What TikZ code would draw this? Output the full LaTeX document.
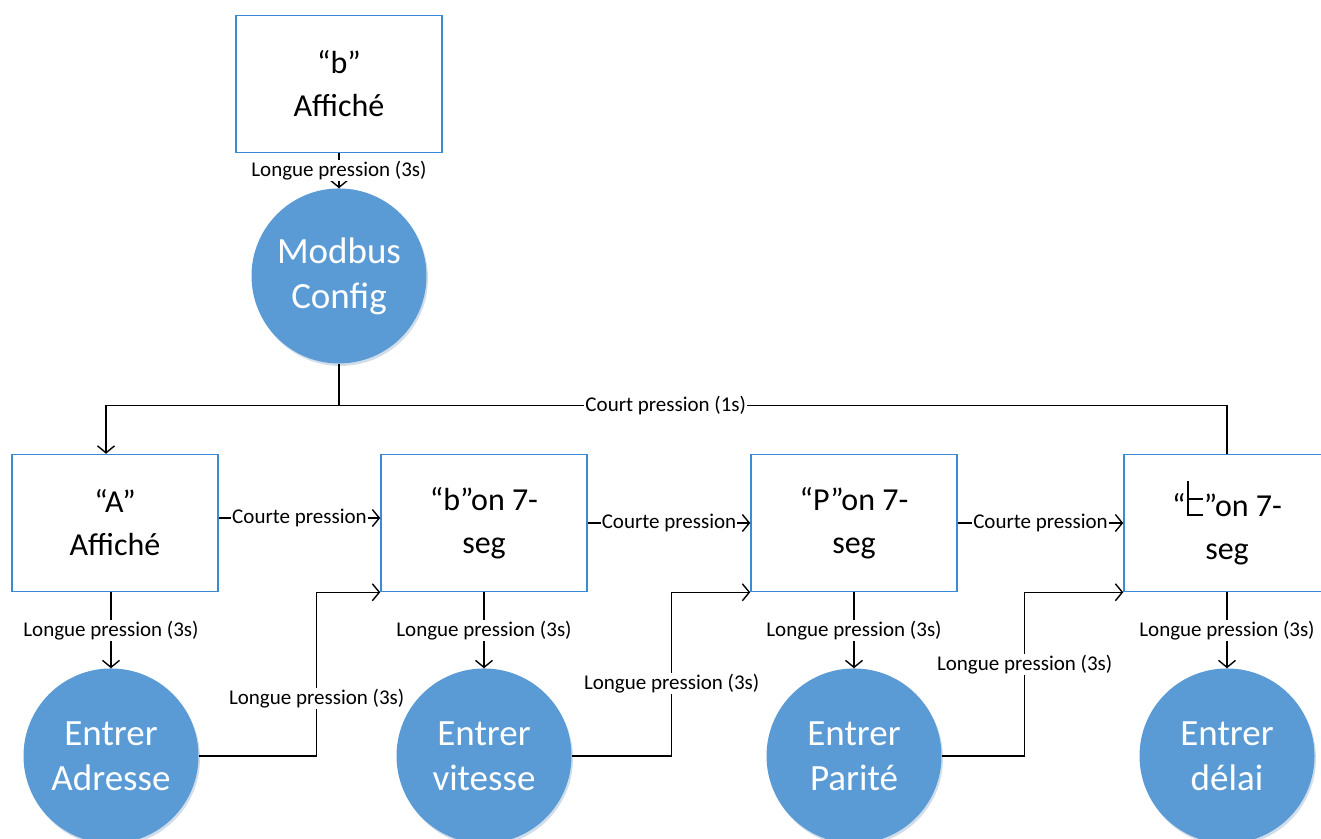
\documentclass[tikz,border=0pt]{standalone}
\usepackage{fontspec}
\setmainfont{Carlito}
\usetikzlibrary{
  arrows.meta,
  positioning,
  shadows,
}
\definecolor{bordbleu}{RGB}{58,138,214}
\definecolor{fondbleu}{RGB}{91,155,213}
% lettre t de l'afficheur 7 segments
\newcommand\segT{\kern0.04em\rule{0.06em}{1.1em}\rule[0.5em]{0.45em}{0.06em}\kern-0.45em\rule{0.45em}{0.06em}\kern0.03em}

\begin{document}
\begin{tikzpicture}[x=1pt, y=1pt,
    etat/.style={draw=bordbleu, line width=1.5pt, minimum width=206pt, minimum height=137pt,
      inner sep=0pt, align=center, font=\fontsize{32}{43}\selectfont},
    action/.style={circle, fill=fondbleu, minimum size=175pt, inner sep=0pt, align=center,
      text=white, font=\fontsize{37}{45}\selectfont,
      drop shadow={fill=fondbleu!70!gray, opacity=0.3, shadow xshift=1.5pt, shadow yshift=-2.5pt}},
    lbl/.style={fill=white, inner sep=1pt, font=\fontsize{21}{24}\selectfont},
    fl/.style={-{Straight Barb[length=7pt, width=17pt]}, line width=1.4pt},
  ]
      \useasboundingbox (0,0) rectangle (1321,-838);
      \node [etat] (B) at (339,-84) {“b”\\Affiché};
      \node [action, below=35pt of B] (modbus) {Modbus\\Config};
      \node [etat] (A) at (115,-523) {“A”\\Affiché};
      \node [etat, right=161.5pt of A] (b7) {“b”on 7-\\seg};
      \node [etat, right=162.5pt of b7] (P7) {“P”on 7-\\seg};
      \node [etat, right=165.5pt of P7] (t7) {“\segT”on 7-\\seg};
      \node [action, below=76pt of A.south, xshift=-4pt, anchor=north] (adr) {Entrer\\Adresse};
      \node [action, below=76pt of b7] (vit) {Entrer\\vitesse};
      \node [action, below=76pt of P7] (par) {Entrer\\Parité};
      \node [action, below=76pt of t7] (del) {Entrer\\délai};
      \coordinate [below=42pt of modbus.south] (jonction);
      \draw [fl] (B) -- node [lbl] {Longue pression (3s)} (modbus);
      \draw [fl] (modbus.south) -- (jonction) -| ([xshift=-9pt]A.north);
      \draw [line width=1.4pt] (jonction) -| node [lbl, pos=0.184] {Court pression (1s)} (t7.north);
      \draw [fl] ([yshift=5pt]A.east) -- node [lbl] {Courte pression} ([yshift=5pt]b7.west);
      \draw [fl] (b7.east) -- node [lbl] {Courte pression} (P7.west);
      \draw [fl] (P7.east) -- node [lbl] {Courte pression} (t7.west);
      \draw [fl] (adr.north |- A.south) -- node [lbl] {Longue pression (3s)} (adr);
      \draw [fl] (b7) -- node [lbl] {Longue pression (3s)} (vit);
      \draw [fl] (P7) -- node [lbl] {Longue pression (3s)} (par);
      \draw [fl] (t7) -- node [lbl] {Longue pression (3s)} (del);
      \draw [fl] (adr.east) -- ++(118,0) |- node [lbl, pos=0.175] {Longue pression (3s)} (b7.south west);
      \draw [fl] (vit.east) -- ++(100,0) |- node [lbl, pos=0.22] {Longue pression (3s)} (P7.south west);
      \draw [fl] (par.east) -- ++(83,0) |- node [lbl, pos=0.28] {Longue pression (3s)} (t7.south west);
    \end{tikzpicture}
\end{document}
